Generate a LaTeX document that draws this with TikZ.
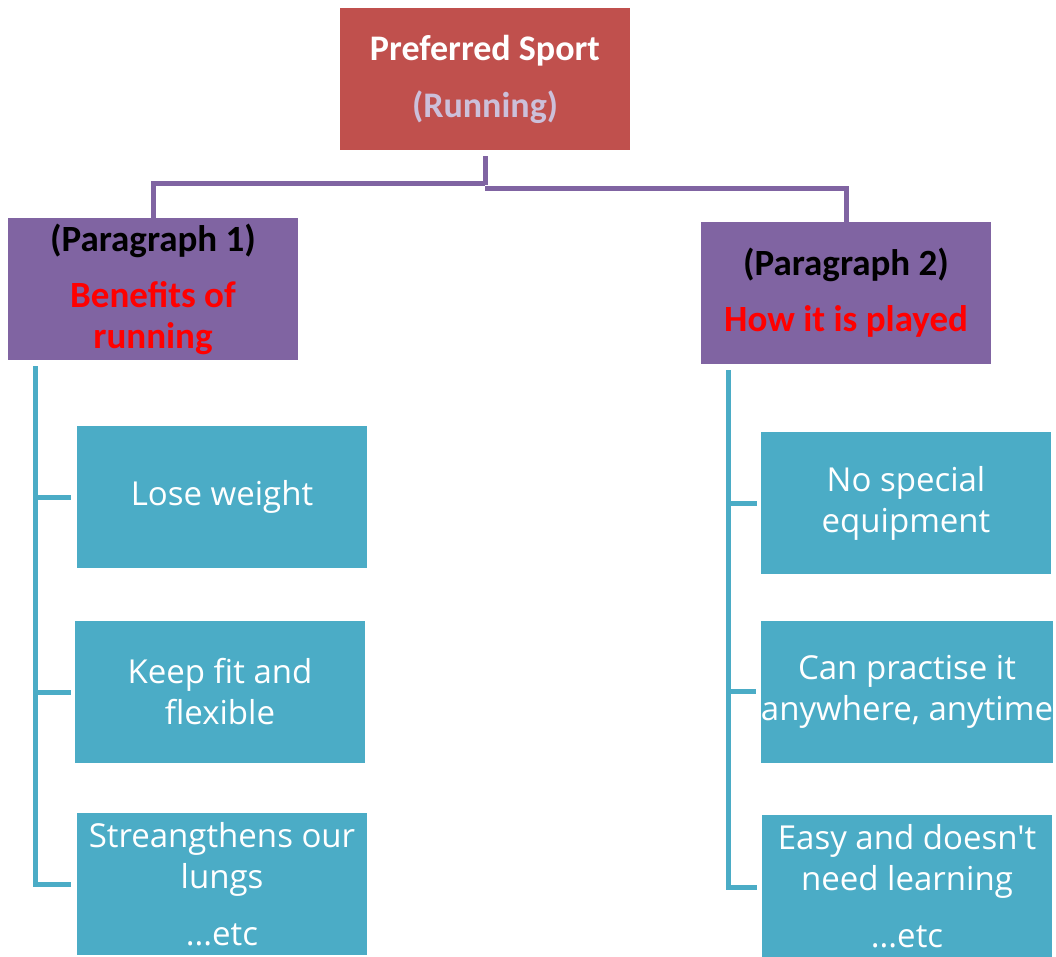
\documentclass[tikz,border=0pt]{standalone}
\usepackage{fontspec}
\setmainfont{Carlito}
\newfontfamily\bodyfont{Open Sans}
\definecolor{topred}{HTML}{C0504D}
\definecolor{parapurple}{HTML}{8064A2}
\definecolor{teal}{HTML}{4BACC6}
\definecolor{runlav}{HTML}{CCC0DA}
\definecolor{redtxt}{HTML}{FF0000}
\begin{document}
\begin{tikzpicture}[x=1pt,y=-1pt,
  box/.style={rectangle, inner sep=0pt, minimum width=290pt, minimum height=142pt, align=center},
  topbox/.style={box, fill=topred, font=\fontsize{36}{41}\selectfont\bfseries},
  parabox/.style={box, fill=parapurple, font=\fontsize{37}{41}\selectfont\bfseries},
  itembox/.style={box, fill=teal, text=white, font=\bodyfont\fontsize{33}{41}\selectfont},
  purpleline/.style={draw=parapurple, line width=5pt},
  tealline/.style={draw=teal, line width=5pt}]
\useasboundingbox (0,0) rectangle (1056,956);
% top
\node[topbox] (top) at (485,79) {\textcolor{white}{Preferred Sport}\\[16pt]\textcolor{runlav}{(Running)}};
% paragraphs
\node[parabox] (p1) at (153,289) {(Paragraph 1)\\[15pt]\textcolor{redtxt}{Benefits of}\\\textcolor{redtxt}{running}};
\node[parabox] (p2) at (846,293) {(Paragraph 2)\\[15pt]\textcolor{redtxt}{How it is played}};
% left items
\node[itembox] (l1) at (222,497) {Lose weight};
\node[itembox] (l2) at (220,692) {Keep fit and\\flexible};
\node[itembox] (l3) at (222,884) {Streangthens our\\lungs\\[16pt]...etc};
% right items
\node[itembox] (r1) at (906,503) {No special\\equipment};
\node[itembox] (r2) at (907,692) {Can practise it\\anywhere, anytime};
\node[itembox] (r3) at (907,886) {Easy and doesn't\\need learning\\[16pt]...etc};
% purple connectors
\coordinate (j) at (485,185);
\draw[purpleline] (top.south) ++(0,6) -- (j);
\draw[purpleline] (485,183) -| ([yshift=-5pt]p1.north);
\draw[purpleline] (485,188) -| ([yshift=-5pt]p2.north);
% left teal connectors
\coordinate (lt) at (35,366);
\coordinate (lb) at (35,884);
\draw[tealline] (lt) -- (lb) -- ([xshift=-6pt]l3.west);
\draw[tealline] (35,497) -- ([xshift=-6pt]l1.west);
\draw[tealline] (35,692) -- ([xshift=-4pt]l2.west);
% right teal connectors
\coordinate (rt) at (728,370);
\coordinate (rb) at (728,887);
\draw[tealline] (rt) -- (rb) -- ([xshift=-5pt]r3.west |- rb);
\draw[tealline] (728,503) -- ([xshift=-4pt]r1.west);
\draw[tealline] (728,691) -- ([xshift=-5pt]r2.west |- 728,691);
\end{tikzpicture}
\end{document}
